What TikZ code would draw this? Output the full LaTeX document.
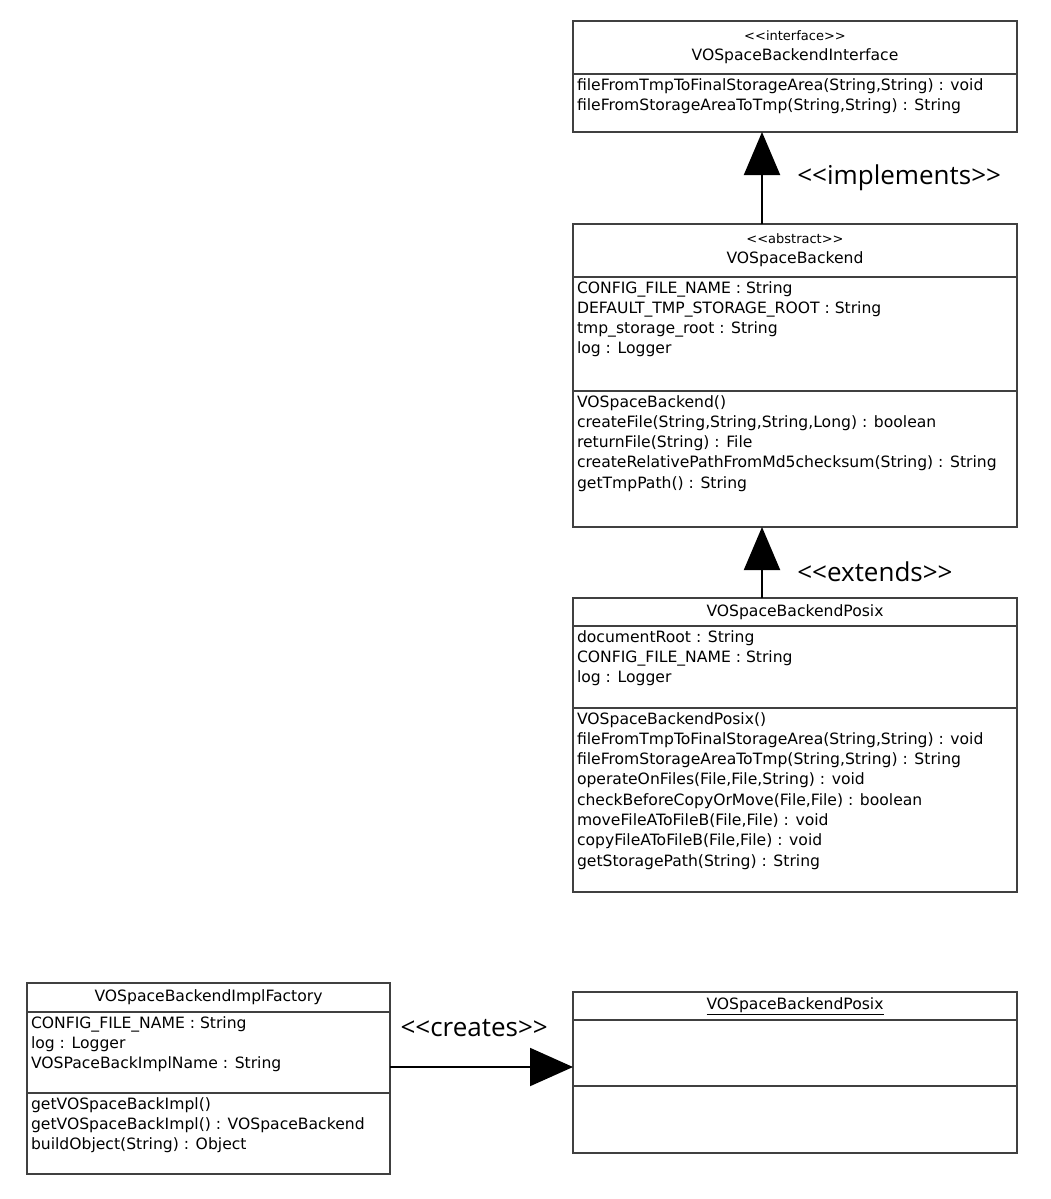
\documentclass[tikz,border=0pt]{standalone}
\usepackage{fontspec}
\setmainfont{DejaVu Sans}
\newfontfamily\stereofont{Open Sans}
\usetikzlibrary{positioning,arrows.meta}
% compartment text, top aligned in a box of fixed height
\newcommand{\members}[3]{\parbox[t][#2][t]{#1}{\rule{0pt}{16pt}#3}}

\begin{document}
\begin{tikzpicture}[x=1pt,y=-1pt]
  \tikzstyle{classbox}=[draw=black!75, line width=1.3pt, rectangle, anchor=north, outer sep=0pt, inner xsep=4pt, inner ysep=0pt, font=\fontsize{15.6}{20.3}\selectfont]
  \tikzstyle{header}=[classbox, align=center]
  \tikzstyle{relation}=[line width=2pt, -{Triangle[width=36pt,length=43pt]}]
  \tikzstyle{rellabel}=[font=\stereofont\fontsize{26}{28}\selectfont]

  \useasboundingbox (0,0) rectangle (1050,1199);

  % interface
  \node[header, minimum width=444pt, minimum height=53pt] (ifacehead) at (795,21)
    {{\fontsize{13}{14}\selectfont <{}<interface>{}>}\\VOSpaceBackendInterface};
  \node[classbox, below=0pt of ifacehead] (ifacemeth) {\members{436pt}{58pt}{%
    fileFromTmpToFinalStorageArea(String,String) : void\\
    fileFromStorageAreaToTmp(String,String) : String}};

  % abstract backend
  \node[header, minimum width=444pt, minimum height=53pt, below=92pt of ifacemeth] (abshead)
    {{\fontsize{13}{14}\selectfont <{}<abstract>{}>}\\VOSpaceBackend};
  \node[classbox, below=0pt of abshead] (absattr) {\members{436pt}{114pt}{%
    CONFIG\_FILE\_NAME : String\\
    DEFAULT\_TMP\_STORAGE\_ROOT : String\\
    tmp\_storage\_root : String\\
    log : Logger}};
  \node[classbox, below=0pt of absattr] (absmeth) {\members{436pt}{136pt}{%
    VOSpaceBackend()\\
    createFile(String,String,String,Long) : boolean\\
    returnFile(String) : File\\
    createRelativePathFromMd5checksum(String) : String\\
    getTmpPath() : String}};

  % posix backend
  \node[header, minimum width=444pt, minimum height=28pt, below=71pt of absmeth] (posixhead)
    {VOSpaceBackendPosix};
  \node[classbox, below=0pt of posixhead] (posixattr) {\members{436pt}{82pt}{%
    documentRoot : String\\
    CONFIG\_FILE\_NAME : String\\
    log : Logger}};
  \node[classbox, below=0pt of posixattr] (posixmeth) {\members{436pt}{184pt}{%
    VOSpaceBackendPosix()\\
    fileFromTmpToFinalStorageArea(String,String) : void\\
    fileFromStorageAreaToTmp(String,String) : String\\
    operateOnFiles(File,File,String) : void\\
    checkBeforeCopyOrMove(File,File) : boolean\\
    moveFileAToFileB(File,File) : void\\
    copyFileAToFileB(File,File) : void\\
    getStoragePath(String) : String}};

  % factory
  \node[header, minimum width=363pt, minimum height=29pt] (facthead) at (208.5,983)
    {VOSpaceBackendImplFactory};
  \node[classbox, below=0pt of facthead] (factattr) {\members{355pt}{81pt}{%
    CONFIG\_FILE\_NAME : String\\
    log : Logger\\
    VOSPaceBackImplName : String}};
  \node[classbox, below=0pt of factattr] (factmeth) {\members{355pt}{81pt}{%
    getVOSpaceBackImpl()\\
    getVOSpaceBackImpl() : VOSpaceBackend\\
    buildObject(String) : Object}};

  % instance
  \node[header, minimum width=444pt, minimum height=28pt] (insthead) at (795,992)
    {\underline{VOSpaceBackendPosix}};
  \node[classbox, minimum width=444pt, minimum height=66pt, below=0pt of insthead] (instattr) {};
  \node[classbox, minimum width=444pt, minimum height=67pt, below=0pt of instattr] (instmeth) {};

  % relations
  \draw[relation] ([xshift=-33pt]abshead.north) -- ([xshift=-33pt]ifacemeth.south)
    node[midway, right=31pt, rellabel] {<<implements>>};
  \draw[relation] ([xshift=-33pt]posixhead.north) -- ([xshift=-33pt]absmeth.south)
    node[pos=0.37, right=31pt, rellabel] {<<extends>>};
  \draw[relation, -{Triangle[width=38pt,length=43pt]}] ([yshift=-14.5pt]factattr.east)
    -- ([yshift=-14.5pt]factattr.east -| instattr.west)
    node[pos=0.46, above=26pt, rellabel] {<<creates>>};
\end{tikzpicture}
\end{document}
